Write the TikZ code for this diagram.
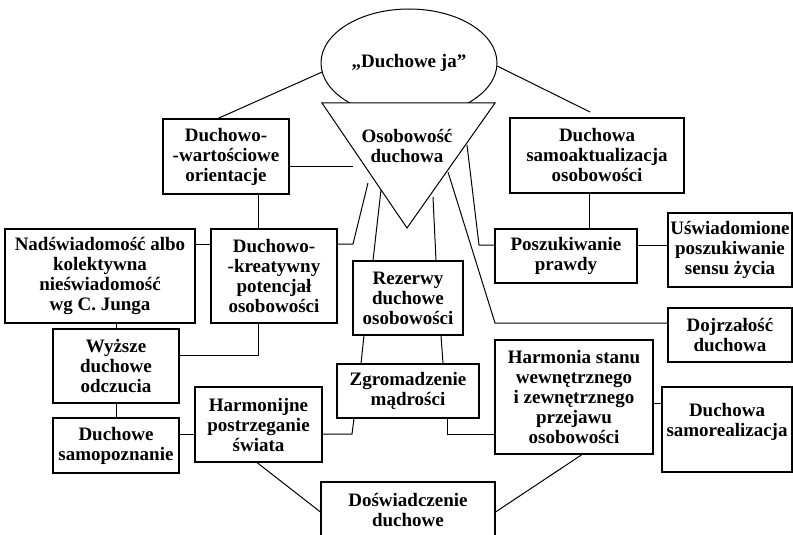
\documentclass[tikz,border=0pt]{standalone}
\usepackage{fontspec}
\setmainfont{Liberation Serif}
\usetikzlibrary{shapes.geometric}
\begin{document}
\begin{tikzpicture}[x=1pt,y=-1pt,line width=1pt,
  lbl/.style={align=center,inner sep=0pt,font=\fontsize{19}{20}\selectfont\bfseries},
  box/.style={lbl,draw,rectangle,line width=1.1pt}]
\useasboundingbox (0,0) rectangle (793,535);
\clip (0,0) rectangle (793,535);
% ellipse
\node[lbl,draw,ellipse,minimum width=176,minimum height=108] (ja) at (409,63) {„Duchowe ja”};
% triangle
\draw[fill=white] (322,103) coordinate (t1) -- (495,103) coordinate (t2) -- (407,228) coordinate (t3) -- cycle;
\node[lbl] (osob) at (407,146) {Osobowość\\duchowa};
% boxes
\node[box,minimum width=126,minimum height=75] (wart) at (226,156.5) {Duchowo-\\-wartościowe\\orientacje};
\node[box,minimum width=174,minimum height=75] (samoakt) at (597,155.5) {Duchowa\\samoaktualizacja\\osobowości};
\node[box,minimum width=190,minimum height=94] (nad) at (100,276) {Nadświadomość albo\\kolektywna\\nieświadomość\\wg C. Junga};
\node[box,minimum width=126,minimum height=94] (kreat) at (274,276) {Duchowo-\\-kreatywny\\potencjał\\osobowości};
\node[box,minimum width=110,minimum height=74] (rez) at (408,298) {Rezerwy\\duchowe\\osobowości};
\node[box,minimum width=142,minimum height=54] (posz) at (566,256) {Poszukiwanie\\prawdy};
\node[box,minimum width=124,minimum height=74] (usw) at (730,250) {Uświadomione\\poszukiwanie\\sensu życia};
\node[box,minimum width=124,minimum height=54] (dojr) at (730,335) {Dojrzałość\\duchowa};
\node[box,minimum width=126,minimum height=74] (wyz) at (116,366) {Wyższe\\duchowe\\odczucia};
\node[box,minimum width=127,minimum height=75] (harm) at (258.5,424.5) {Harmonijne\\postrzeganie\\świata};
\node[box,minimum width=142,minimum height=54] (zgrom) at (408,391) {Zgromadzenie\\mądrości};
\node[box,minimum width=158,minimum height=114] (harmonia) at (574,397) {Harmonia stanu\\wewnętrznego\\i zewnętrznego\\przejawu\\osobowości};
\node[box,minimum width=130,minimum height=85] (samoreal) at (727,429.5) {Duchowa\\samorealizacja\\\mbox{}};
\node[box,minimum width=126,minimum height=55] (samopozn) at (116,445.5) {Duchowe\\samopoznanie};
\node[box,minimum width=174,minimum height=56] (dosw) at (408,510) {Doświadczenie\\duchowe};
% free ends
\coordinate (e1) at (590,112);
\coordinate (c1) at (353,166);
\coordinate (c2) at (368,183);
\coordinate (c3) at (381,190);
\coordinate (c4) at (433,197);
\coordinate (c5) at (448,172);
\coordinate (c6) at (467,145);
% connectors
\draw (ja.186) -- (wart.north-|218,0);
\draw (ja.358) -- (e1);
\draw (wart.east|-0,166) -- (c1);
\draw (258,0|-wart.south) -- (258,0|-kreat.north);
\draw (nad.east|-0,244) -- (kreat.west|-0,244);
\draw (kreat.east|-0,244) -- (353,244) -- (c2);
\draw (c3) -- (373,0|-rez.north);
\draw (c4) -- (436,0|-rez.north);
\draw (c5) -- (495,323) -- (dojr.west|-0,323);
\draw (c6) -- (479,245) -- (posz.west|-0,245);
\draw (589,0|-samoakt.south) -- (589,0|-posz.north);
\draw (posz.east|-0,245) -- (usw.west|-0,245);
\draw (116,0|-nad.south) -- (116,0|-wyz.north);
\draw (wyz.east|-0,355) -- (258,355) -- (258,0|-kreat.south);
\draw (116,0|-wyz.south) -- (116,0|-samopozn.north);
\draw (samopozn.east|-0,434) -- (harm.west|-0,434);
\draw (364,0|-rez.south) -- (361,0|-zgrom.north);
\draw (441,0|-rez.south) -- (443,0|-zgrom.north);
\draw (354,0|-zgrom.south) -- (352,434) -- (harm.east|-0,434);
\draw (447,0|-zgrom.south) -- (447,434) -- (harmonia.west|-0,434);
\draw (harmonia.east|-0,403) -- (samoreal.west|-0,403);
\draw (257,0|-harm.south) -- (dosw.west|-0,512);
\draw (582,0|-harmonia.south) -- (dosw.east|-0,512);
\end{tikzpicture}
\end{document}
